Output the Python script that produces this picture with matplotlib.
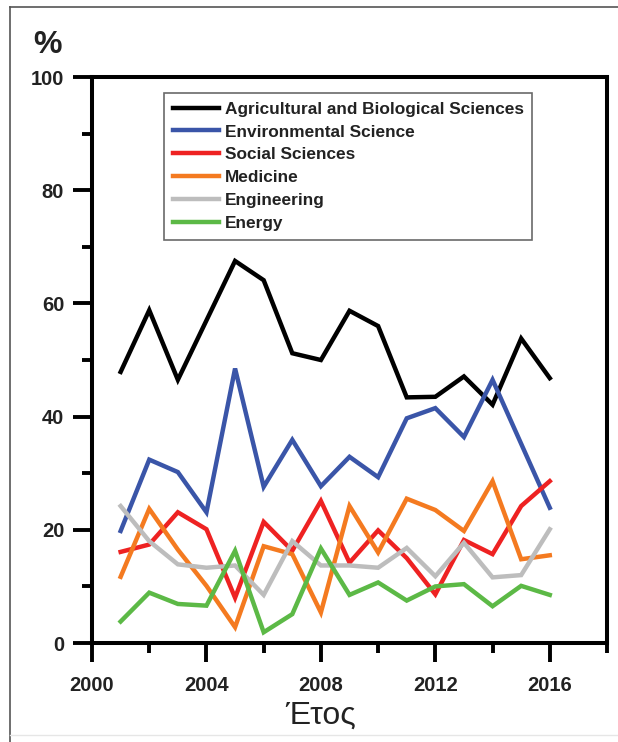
import matplotlib
matplotlib.use("Agg")
import matplotlib.pyplot as plt
from matplotlib.lines import Line2D
from matplotlib.ticker import MultipleLocator

plt.rcParams["font.family"] = ["Liberation Sans", "DejaVu Sans"]

years = list(range(2001, 2017))
agri = [47.9, 58.8, 46.5, 57.0, 67.5, 64.1, 51.2, 50.0, 58.7, 56.0, 43.4, 43.5, 47.1, 42.1, 53.8, 46.8]
env = [19.8, 32.4, 30.2, 23.1, 48.5, 27.6, 35.9, 27.7, 32.9, 29.3, 39.7, 41.5, 36.4, 46.5, 35.2, 23.9]
social = [16.1, 17.4, 23.1, 20.1, 8.0, 21.4, 16.3, 25.1, 14.2, 19.9, 15.0, 8.6, 18.2, 15.7, 24.2, 28.6]
medicine = [11.7, 23.7, 16.5, 10.1, 2.8, 17.1, 15.7, 5.4, 24.2, 16.0, 25.5, 23.5, 19.8, 28.6, 14.8, 15.5]
engineering = [24.2, 18.0, 13.9, 13.3, 13.7, 8.5, 18.0, 13.7, 13.7, 13.3, 16.8, 11.8, 17.7, 11.6, 12.0, 20.1]
energy = [3.8, 8.9, 6.9, 6.6, 16.3, 1.9, 5.1, 16.7, 8.5, 10.7, 7.5, 10.0, 10.4, 6.5, 10.1, 8.5]

series = [
    ("Agricultural and Biological Sciences", agri, "#000000"),
    ("Environmental Science", env, "#3a55a8"),
    ("Social Sciences", social, "#ee2222"),
    ("Medicine", medicine, "#f47a20"),
    ("Engineering", engineering, "#bdbdbd"),
    ("Energy", energy, "#5cb946"),
]

fig = plt.figure(figsize=(6.18, 7.42), dpi=100)
ax = fig.add_axes([0.1489, 0.1334, 0.8333, 0.7628])

for name, vals, col in series:
    ax.plot(years, vals, color=col, lw=3.2, label=name, solid_joinstyle="miter")

ax.set_xlim(2000, 2018)
ax.set_ylim(0, 100)
ax.xaxis.set_major_locator(MultipleLocator(4))
ax.xaxis.set_minor_locator(MultipleLocator(2))
ax.yaxis.set_major_locator(MultipleLocator(20))
ax.yaxis.set_minor_locator(MultipleLocator(10))
ax.tick_params(which="major", length=14, width=2.8, labelsize=14.5, labelcolor="#222222")
ax.tick_params(axis="x", which="major", pad=10)
ax.tick_params(axis="y", which="major", pad=6)
ax.tick_params(which="minor", length=7.5, width=2.8)
for lbl in ax.get_xticklabels() + ax.get_yticklabels():
    lbl.set_fontweight("bold")
for sp in ax.spines.values():
    sp.set_linewidth(2.9)

# label sits under the 2000-2016 span, not the full axis
ax.set_xlabel("Έτος", fontsize=23, color="#222222")
ax.xaxis.set_label_coords(0.444, -0.1025)
fig.text(33 / 618, 1 - 53 / 742, "%", fontsize=23, fontweight="bold", ha="left", va="baseline",
         color="#222222")

leg = ax.legend(loc="upper left", bbox_to_anchor=(0.14, 0.972), borderaxespad=0, frameon=True,
                fancybox=False, prop={"weight": "bold", "size": 12.4}, handlelength=2.67,
                handletextpad=0.35, labelspacing=0.46, borderpad=0.5)
leg.get_frame().set_edgecolor("#444444")
leg.get_frame().set_linewidth(1.2)
for t in leg.get_texts():
    t.set_color("#222222")

# outer picture frame
fig.add_artist(Line2D([10 / 618, 10 / 618], [0.0, 1 - 7 / 742], transform=fig.transFigure,
                      color="#555555", lw=1.2))
fig.add_artist(Line2D([10 / 618, 1.0], [1 - 7 / 742, 1 - 7 / 742], transform=fig.transFigure,
                      color="#555555", lw=1.2))
fig.add_artist(Line2D([10 / 618, 1.0], [1 - 735 / 742, 1 - 735 / 742], transform=fig.transFigure,
                      color="#e6e6e6", lw=1.0))

fig.savefig("out.png", dpi=100)
